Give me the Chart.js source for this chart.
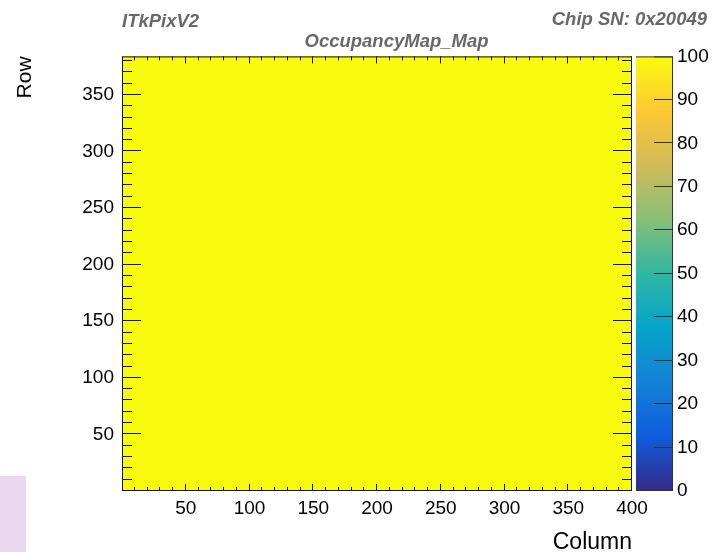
<!DOCTYPE html>
<html>
<head>
<meta charset="utf-8">
<title>OccupancyMap_Map</title>
<script src="https://cdn.jsdelivr.net/npm/chart.js@4"></script>
<style>
  body { margin: 0; background: #fff; }
  #wrap { position: relative; width: 713px; height: 552px; }
  .corner-tab { position: absolute; left: 0; top: 476px; width: 26px; height: 76px; background: #ecd7f1; }
</style>
</head>
<body>
<div id="wrap">
  <canvas id="occMap" width="713" height="552"></canvas>
  <div class="corner-tab"></div>
</div>
<script>
var chipType = 'ITkPixV2';
var chipSN = 'Chip SN: 0x20049';
var histName = 'OccupancyMap_Map';

var nColumns = 400;
var nRows = 384;
var zMin = 0, zMax = 100;
var majorStep = 50, minorStep = 10, zStep = 10;

// occupancy per pixel (% of injections), the whole matrix came back at 100
var occupancy = [];
for (var r = 0; r < nRows; r++) {
  occupancy.push(new Array(nColumns).fill(100));
}

// kBird palette
var birdStops = [0.0, 0.125, 0.25, 0.375, 0.5, 0.625, 0.75, 0.875, 1.0];
var birdRed   = [0.2082, 0.0592, 0.0780, 0.0232, 0.1802, 0.5301, 0.8186, 0.9956, 0.9764];
var birdGreen = [0.1664, 0.3599, 0.5041, 0.6419, 0.7178, 0.7492, 0.7328, 0.7862, 0.9832];
var birdBlue  = [0.5293, 0.8684, 0.8385, 0.7914, 0.6425, 0.4662, 0.3499, 0.1968, 0.0539];

var fontFam = '"Liberation Sans", Arial, Helvetica, sans-serif';
Chart.defaults.font.family = fontFam;
Chart.defaults.color = '#000';

function birdColor(t) {
  t = Math.max(0, Math.min(1, t));
  var i = 0;
  while (i < birdStops.length - 2 && t > birdStops[i + 1]) i++;
  var f = (t - birdStops[i]) / (birdStops[i + 1] - birdStops[i]);
  var c = function (arr) { return Math.round(255 * (arr[i] + f * (arr[i + 1] - arr[i]))); };
  return 'rgb(' + c(birdRed) + ',' + c(birdGreen) + ',' + c(birdBlue) + ')';
}

var mapPlugin = {
  id: 'occMap',
  beforeDatasetsDraw: function (chart) {
    var ctx = chart.ctx, xs = chart.scales.x, ys = chart.scales.y;
    ctx.save();
    var lastColor = null;
    for (var r = 0; r < nRows; r++) {
      var y0 = Math.round(ys.getPixelForValue(r));
      var y1 = Math.round(ys.getPixelForValue(r + 1));
      for (var c = 0; c < nColumns; c++) {
        var v = occupancy[r][c];
        if (v <= 0) continue;
        var col = birdColor((v - zMin) / (zMax - zMin));
        if (col !== lastColor) { ctx.fillStyle = col; lastColor = col; }
        var x0 = Math.round(xs.getPixelForValue(c));
        var x1 = Math.round(xs.getPixelForValue(c + 1));
        ctx.fillRect(x0, y1, x1 - x0, y0 - y1);
      }
    }
    ctx.restore();
  },
  afterDraw: function (chart) {
    var ctx = chart.ctx, a = chart.chartArea;
    var xs = chart.scales.x, ys = chart.scales.y, zs = chart.scales.z;
    var snapX = function (p) { return Math.max(a.left + 0.5, Math.min(a.right - 0.5, Math.round(p) - 0.5)); };
    var snapY = function (p) { return Math.max(a.top + 0.5, Math.min(a.bottom - 0.5, Math.round(p) - 0.5)); };
    ctx.save();

    // frame with ticks on all four sides
    ctx.strokeStyle = '#111';
    ctx.lineWidth = 1;
    ctx.beginPath();
    for (var c = 0; c <= nColumns; c += minorStep) {
      var px = snapX(xs.getPixelForValue(c));
      var len = c % majorStep === 0 ? 7 : 4;
      ctx.moveTo(px, a.bottom); ctx.lineTo(px, a.bottom - len);
      ctx.moveTo(px, a.top); ctx.lineTo(px, a.top + len);
    }
    for (var r = 0; r <= nRows; r += minorStep) {
      var py = snapY(ys.getPixelForValue(r));
      var ylen = r % majorStep === 0 ? 19 : 10;
      ctx.moveTo(a.left, py); ctx.lineTo(a.left + ylen, py);
      ctx.moveTo(a.right, py); ctx.lineTo(a.right - ylen, py);
    }
    ctx.stroke();
    ctx.strokeRect(a.left + 0.5, a.top + 0.5, a.right - a.left - 1, a.bottom - a.top - 1);

    // colour bar
    var barL = a.right + 4, barR = a.right + 41;
    var zTop = zs.getPixelForValue(zMax), zBot = zs.getPixelForValue(zMin);
    var grad = ctx.createLinearGradient(0, zBot, 0, zTop);
    birdStops.forEach(function (s) { grad.addColorStop(s, birdColor(s)); });
    ctx.fillStyle = grad;
    ctx.fillRect(barL, zTop, barR - barL, zBot - zTop);
    ctx.strokeStyle = '#333';
    ctx.beginPath();
    ctx.moveTo(barL, zTop + 0.5); ctx.lineTo(barR - 0.5, zTop + 0.5);
    ctx.lineTo(barR - 0.5, zBot - 0.5); ctx.lineTo(barL, zBot - 0.5);
    zs.ticks.forEach(function (t) {
      var ty = Math.max(zTop + 0.5, Math.min(zBot - 0.5, Math.round(zs.getPixelForValue(t.value)) - 0.5));
      ctx.moveTo(barR, ty); ctx.lineTo(barR - 19, ty);
    });
    ctx.stroke();

    // header texts
    ctx.fillStyle = '#686868';
    ctx.font = 'italic bold 18.5px ' + fontFam;
    ctx.textBaseline = 'alphabetic';
    ctx.textAlign = 'left';
    ctx.fillText(chipType, a.left, 27);
    ctx.textAlign = 'right';
    ctx.fillText(chipSN, chart.width - 6, 25);
    ctx.textAlign = 'center';
    ctx.fillText(histName, 396.5, 47);
    ctx.restore();
  }
};

var hideZero = function (v) { return v === 0 ? null : v; };
var noGrid = { display: false, drawTicks: false };

var chart = new Chart(document.getElementById('occMap'), {
  type: 'scatter',
  data: { datasets: [] },
  options: {
    responsive: false,
    devicePixelRatio: 1,
    animation: false,
    layout: { padding: { top: 53, left: 0, right: 0, bottom: 0 } },
    plugins: { legend: { display: false }, tooltip: { enabled: false } },
    scales: {
      x: {
        type: 'linear', position: 'bottom', min: 0, max: nColumns,
        grid: noGrid, border: { display: false },
        ticks: { stepSize: majorStep, padding: 6, maxRotation: 0, autoSkip: false, font: { size: 19 }, callback: hideZero },
        title: { display: true, text: 'Column', align: 'end', font: { size: 23, lineHeight: 1 }, padding: { top: 0, bottom: -2 } },
        afterFit: function (s) { s.height = 61; }
      },
      y: {
        type: 'linear', position: 'left', min: 0, max: nRows,
        grid: noGrid, border: { display: false },
        ticks: { stepSize: majorStep, includeBounds: false, padding: 8, autoSkip: false, font: { size: 19 }, callback: hideZero },
        title: { display: true, text: 'Row', align: 'end', font: { size: 21, lineHeight: 1 }, padding: { top: 15, bottom: 0 } },
        afterFit: function (s) { s.width = 122; }
      },
      z: {
        type: 'linear', position: 'right', min: zMin, max: zMax,
        grid: noGrid, border: { display: false },
        ticks: { stepSize: zStep, padding: 45, autoSkip: false, font: { size: 19 } },
        afterFit: function (s) { s.width = 81; }
      }
    }
  },
  plugins: [mapPlugin]
});
</script>
</body>
</html>
